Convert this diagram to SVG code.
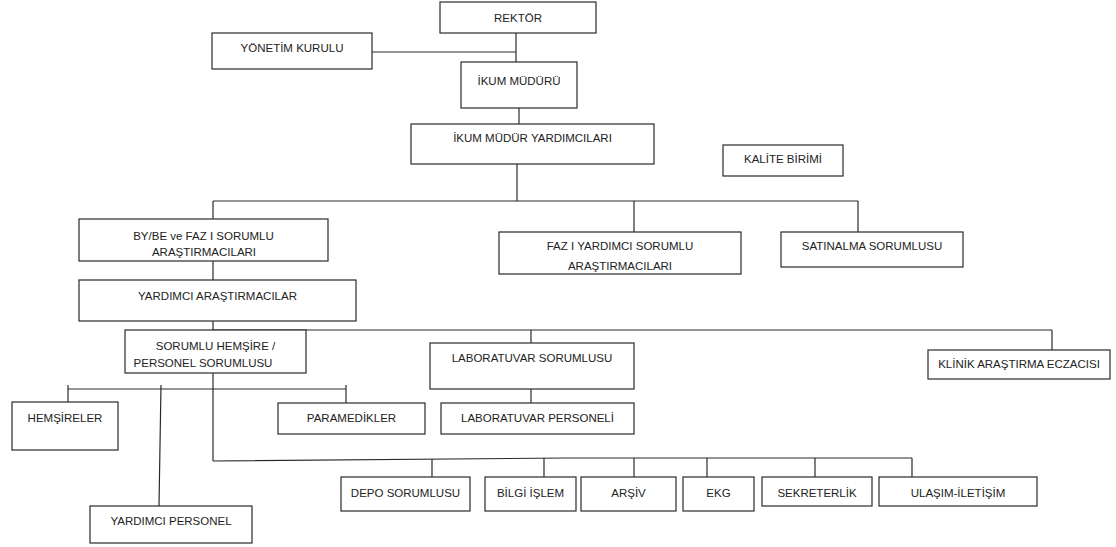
<svg xmlns="http://www.w3.org/2000/svg" width="1116" height="547" viewBox="0 0 1116 547">
<style>
  .box { fill: #ffffff; stroke: #2a2a2a; stroke-width: 1.2; }
  .t { font-family: "Liberation Sans", Arial, sans-serif; font-size: 11.5px; fill: #222222; text-anchor: middle; }
  .ln { fill: none; stroke: #2a2a2a; stroke-width: 1.2; }
</style>
<rect x="0" y="0" width="1116" height="547" fill="#ffffff"/>
<g id="connectors">
  <line class="ln" x1="516" y1="33" x2="516" y2="62"/>
  <line class="ln" x1="372" y1="52" x2="516" y2="52"/>
  <line class="ln" x1="519" y1="108" x2="519" y2="124"/>
  <line class="ln" x1="517" y1="164" x2="517" y2="201"/>
  <line class="ln" x1="213" y1="201" x2="858" y2="201"/>
  <line class="ln" x1="213" y1="201" x2="213" y2="219"/>
  <line class="ln" x1="634" y1="201" x2="634" y2="232"/>
  <line class="ln" x1="858" y1="201" x2="858" y2="232"/>
  <line class="ln" x1="213" y1="261" x2="213" y2="280"/>
  <line class="ln" x1="213" y1="321" x2="213" y2="330"/>
  <line class="ln" x1="213" y1="330" x2="1052" y2="330"/>
  <line class="ln" x1="531" y1="330" x2="531" y2="343"/>
  <line class="ln" x1="1052" y1="330" x2="1052" y2="350"/>
  <line class="ln" x1="531" y1="389" x2="531" y2="403"/>
  <line class="ln" x1="213" y1="373" x2="213" y2="461"/>
  <line class="ln" x1="68" y1="389" x2="346" y2="389"/>
  <line class="ln" x1="68" y1="385" x2="68" y2="402"/>
  <line class="ln" x1="346" y1="385" x2="346" y2="403"/>
  <line class="ln" x1="161" y1="385" x2="159" y2="506"/>
  <polyline class="ln" points="213,461 567,458 912,458"/>
  <line class="ln" x1="432" y1="459" x2="432" y2="477"/>
  <line class="ln" x1="544" y1="458" x2="544" y2="477"/>
  <line class="ln" x1="634" y1="458" x2="634" y2="477"/>
  <line class="ln" x1="707" y1="458" x2="707" y2="477"/>
  <line class="ln" x1="815" y1="458" x2="815" y2="477"/>
  <line class="ln" x1="912" y1="458" x2="912" y2="477"/>
</g>
<g id="rektor"><rect class="box" x="440" y="2" width="156" height="31"/><text class="t" x="518" y="22">REKTÖR</text></g>
<g id="yonetim-kurulu"><rect class="box" x="212" y="33" width="160" height="36"/><text class="t" x="292" y="52">YÖNETİM KURULU</text></g>
<g id="ikum-muduru"><rect class="box" x="461" y="62" width="116" height="46"/><text class="t" x="519" y="85">İKUM MÜDÜRÜ</text></g>
<g id="ikum-mudur-yardimcilari"><rect class="box" x="411" y="124" width="243" height="40"/><text class="t" x="532.5" y="142">İKUM MÜDÜR YARDIMCILARI</text></g>
<g id="kalite-birimi"><rect class="box" x="723" y="145" width="120" height="31"/><text class="t" x="783" y="163">KALİTE BİRİMİ</text></g>
<g id="bybe"><rect class="box" x="79" y="219" width="249" height="42"/><text class="t" x="203.5" y="240">BY/BE ve FAZ I SORUMLU</text><text class="t" x="204" y="256">ARAŞTIRMACILARI</text></g>
<g id="faz1-yardimci"><rect class="box" x="499" y="232" width="242" height="42"/><text class="t" x="620" y="250">FAZ I YARDIMCI SORUMLU</text><text class="t" x="620" y="270">ARAŞTIRMACILARI</text></g>
<g id="satinalma"><rect class="box" x="781" y="232" width="182" height="35"/><text class="t" x="872" y="250">SATINALMA SORUMLUSU</text></g>
<g id="yardimci-arastirmacilar"><rect class="box" x="79" y="280" width="277" height="41"/><text class="t" x="217.5" y="300">YARDIMCI ARAŞTIRMACILAR</text></g>
<g id="sorumlu-hemsire"><rect class="box" x="125" y="330" width="181" height="43"/><text class="t" x="215.5" y="350">SORUMLU HEMŞİRE /</text><text class="t" x="203" y="367">PERSONEL SORUMLUSU</text></g>
<g id="lab-sorumlusu"><rect class="box" x="430" y="343" width="204" height="46"/><text class="t" x="532" y="362">LABORATUVAR SORUMLUSU</text></g>
<g id="lab-personeli"><rect class="box" x="441" y="403" width="193" height="31"/><text class="t" x="537.5" y="422">LABORATUVAR PERSONELİ</text></g>
<g id="klinik-eczaci"><rect class="box" x="928" y="350" width="182" height="29"/><text class="t" x="1019" y="368">KLİNİK ARAŞTIRMA ECZACISI</text></g>
<g id="hemsireler"><rect class="box" x="12" y="402" width="106" height="48"/><text class="t" x="65" y="422">HEMŞİRELER</text></g>
<g id="paramedikler"><rect class="box" x="278" y="403" width="147" height="31"/><text class="t" x="351.5" y="422">PARAMEDİKLER</text></g>
<g id="yardimci-personel"><rect class="box" x="90" y="506" width="162" height="37"/><text class="t" x="171" y="525">YARDIMCI PERSONEL</text></g>
<g id="depo"><rect class="box" x="341" y="477" width="129" height="34"/><text class="t" x="405.5" y="497">DEPO SORUMLUSU</text></g>
<g id="bilgi-islem"><rect class="box" x="485" y="477" width="91" height="34"/><text class="t" x="530.5" y="497">BİLGİ İŞLEM</text></g>
<g id="arsiv"><rect class="box" x="581" y="477" width="95" height="34"/><text class="t" x="628.5" y="497">ARŞİV</text></g>
<g id="ekg"><rect class="box" x="683" y="477" width="71" height="34"/><text class="t" x="718.5" y="497">EKG</text></g>
<g id="sekreterlik"><rect class="box" x="762" y="477" width="110" height="29"/><text class="t" x="817" y="497">SEKRETERLİK</text></g>
<g id="ulasim"><rect class="box" x="879" y="477" width="158" height="29"/><text class="t" x="958" y="497">ULAŞIM-İLETİŞİM</text></g>
</svg>
